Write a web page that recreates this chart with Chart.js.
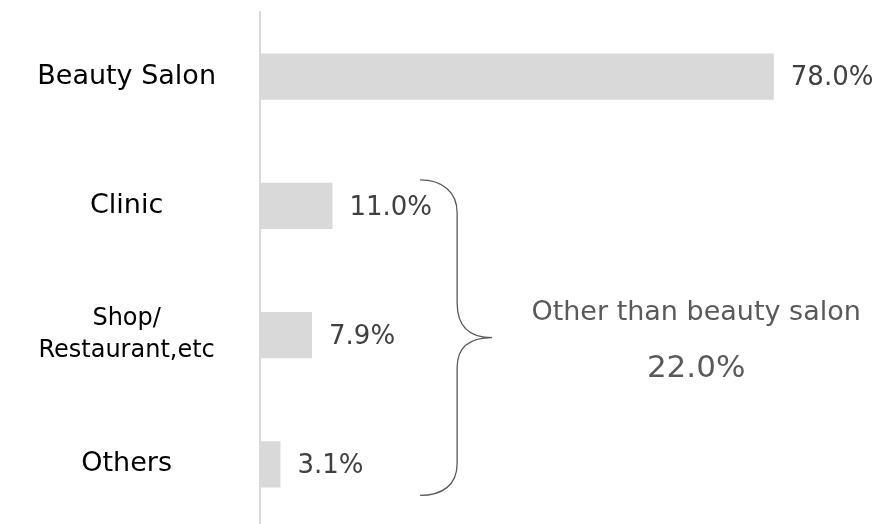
<!DOCTYPE html>
<html>
<head>
<meta charset="utf-8">
<script src="https://cdn.jsdelivr.net/npm/chart.js@4"></script>
<style>
  html, body { margin: 0; padding: 0; background: #fff; overflow: hidden; }
  canvas { display: block; }
</style>
</head>
<body>
<canvas id="chart" width="882" height="540"></canvas>
<script>
const categories = ['Beauty Salon', 'Clinic', ['Shop/', 'Restaurant,etc'], 'Others'];
const shares = [78.0, 11.0, 7.9, 3.1];
const groupLabel = 'Other than beauty salon';
const groupShare = 22.0;

const fontFamily = '"DejaVu Sans", Verdana, sans-serif';

// value labels to the right of each bar
const valueLabels = {
  id: 'valueLabels',
  afterDatasetsDraw(chart) {
    const ctx = chart.ctx;
    const meta = chart.getDatasetMeta(0);
    ctx.save();
    ctx.font = `26px ${fontFamily}`;
    ctx.fillStyle = '#404040';
    ctx.textAlign = 'left';
    ctx.textBaseline = 'middle';
    meta.data.forEach((bar, i) => {
      ctx.fillText(`${shares[i].toFixed(1)}%`, bar.x + 17, bar.y + 2);
    });
    ctx.restore();
  }
};

// curly brace grouping the non-salon categories
const groupBrace = {
  id: 'groupBrace',
  afterDraw(chart) {
    const { ctx, scales: { x, y } } = chart;
    const top = y.getPixelForValue(1) - 26;
    const bottom = y.getPixelForValue(3) + 31;
    const mid = (top + bottom) / 2;
    const stem = x.getPixelForValue(30) - 0.5;
    const left = stem - 37;
    const tip = stem + 35;

    ctx.save();
    ctx.strokeStyle = '#595959';
    ctx.lineWidth = 1.3;
    ctx.beginPath();
    ctx.moveTo(left, top);
    ctx.bezierCurveTo(left + 22, top, stem, top + 12, stem, top + 33);
    ctx.lineTo(stem, mid - 35);
    ctx.bezierCurveTo(stem, mid - 12, stem + 12, mid, tip, mid);
    ctx.bezierCurveTo(stem + 12, mid, stem, mid + 10, stem, mid + 30);
    ctx.lineTo(stem, bottom - 32);
    ctx.bezierCurveTo(stem, bottom - 10, left + 22, bottom, left, bottom);
    ctx.stroke();

    const cx = tip + 204;
    ctx.fillStyle = '#595959';
    ctx.textAlign = 'center';
    ctx.textBaseline = 'middle';
    ctx.font = `27px ${fontFamily}`;
    ctx.fillText(groupLabel, cx, mid - 25);
    ctx.font = `31px ${fontFamily}`;
    ctx.fillText(`${groupShare.toFixed(1)}%`, cx, mid + 31);
    ctx.restore();
  }
};

new Chart(document.getElementById('chart'), {
  type: 'bar',
  data: {
    labels: categories,
    datasets: [{
      data: shares,
      backgroundColor: '#d9d9d9',
      borderWidth: 0,
      barPercentage: 0.356,
      categoryPercentage: 1
    }]
  },
  options: {
    indexAxis: 'y',
    responsive: false,
    animation: false,
    layout: { padding: { top: 12, bottom: 11, left: 0, right: 95 } },
    scales: {
      x: { display: false, min: 0, max: 80 },
      y: {
        grid: { display: false, drawTicks: false },
        border: { display: true, color: '#d9d9d9', width: 2 },
        ticks: {
          color: '#000',
          crossAlign: 'center',
          padding: 44,
          font: ctx => ctx.index === 2
            ? { family: fontFamily, size: 24, lineHeight: 1.33 }
            : { family: fontFamily, size: 27 }
        },
        afterFit: scale => {
          scale.width = 260;
          scale.paddingTop = 0;
          scale.paddingBottom = 0;
        }
      }
    },
    plugins: {
      legend: { display: false },
      tooltip: { enabled: false }
    }
  },
  plugins: [valueLabels, groupBrace]
});
</script>
</body>
</html>
